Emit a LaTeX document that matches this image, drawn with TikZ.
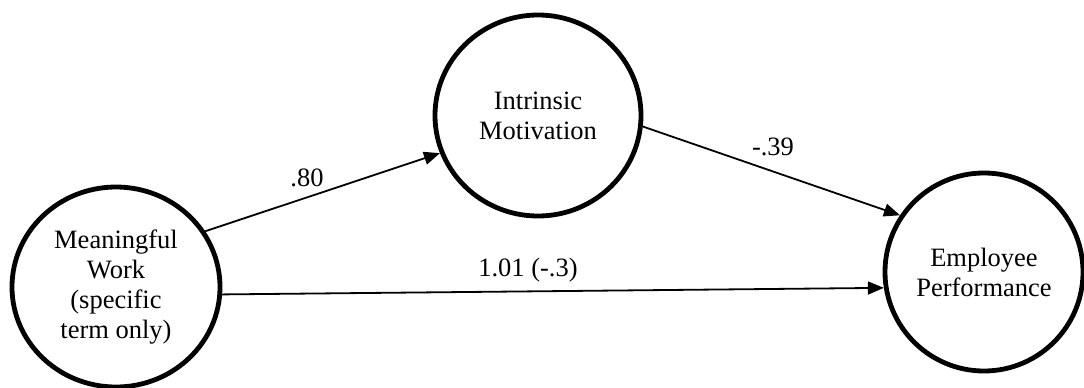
\documentclass[tikz,border=0pt]{standalone}
\usepackage{fontspec}
\setmainfont{Liberation Serif}
\usetikzlibrary{shapes.geometric,arrows.meta}
\begin{document}
\begin{tikzpicture}[x=1pt,y=-1pt,
  latent/.style={ellipse,draw,line width=4.8pt,inner sep=0pt,align=center,
    font=\fontsize{26.5}{30}\selectfont},
  path/.style={line width=1.8pt,-{Triangle[length=16pt,width=13pt]}},
  lbl/.style={font=\fontsize{26.5}{30}\selectfont,inner sep=0pt}]
\useasboundingbox (0,0) rectangle (1084,388);
\node[latent,minimum width=208pt,minimum height=200pt] (mw) at (116,287) {Meaningful\\Work\\(specific\\term only)};
\node[latent,minimum width=206pt,minimum height=201pt] (im) at (538,115.5) {Intrinsic\\Motivation};
\node[latent,minimum width=198pt,minimum height=198pt] (ep) at (984,272) {Employee\\Performance};
\draw[path] (mw.32) -- (im.201);
\draw[path] (im.354) -- (ep.146);
\draw[path] (mw.356) -- (ep.189);
\node[lbl] (l1) at (307,178) {.80};
\node[lbl] (l2) at (773,147) {-.39};
\node[lbl] (l3) at (528,270) {1.01 (-.3)};
\end{tikzpicture}
\end{document}
